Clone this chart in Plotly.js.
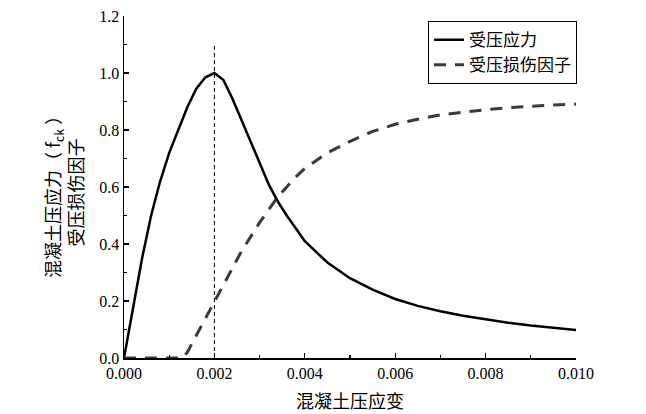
<!DOCTYPE html>
<html>
<head>
<meta charset="utf-8">
<script src="https://cdn.plot.ly/plotly-3.0.1.min.js"></script>
<style>html,body{margin:0;padding:0;background:#fff;}#chart{width:646px;height:414px;}</style>
</head>
<body>
<div id="chart"></div>
<script>
// Concrete compressive stress (normalised by f_ck)
const strainStress = [0, 0.0002, 0.0004, 0.0006, 0.0008, 0.001, 0.0012, 0.0014, 0.0016, 0.0018, 0.002,
  0.0022, 0.0024, 0.0026, 0.0028, 0.003, 0.0032, 0.0034, 0.0036, 0.0038, 0.004,
  0.0045, 0.005, 0.0055, 0.006, 0.0065, 0.007, 0.0075, 0.008, 0.0085, 0.009, 0.0095, 0.01];
const stressValues = [0, 0.17, 0.35, 0.50, 0.62, 0.72, 0.80, 0.88, 0.945, 0.985, 1.0,
  0.975, 0.91, 0.835, 0.755, 0.68, 0.61, 0.55, 0.50, 0.455, 0.41,
  0.335, 0.28, 0.24, 0.207, 0.183, 0.164, 0.148, 0.135, 0.124, 0.114, 0.106, 0.098];

// Compressive damage factor
const strainDamage = [0, 0.0013, 0.0014, 0.0016, 0.0018, 0.002, 0.0022, 0.0024, 0.0026, 0.0028, 0.003,
  0.0032, 0.0034, 0.0036, 0.0038, 0.004, 0.0045, 0.005, 0.0055, 0.006, 0.0065,
  0.007, 0.0075, 0.008, 0.0085, 0.009, 0.0095, 0.01];
const damageValues = [0, 0, 0.02, 0.08, 0.14, 0.2, 0.26, 0.32, 0.375, 0.425, 0.475,
  0.52, 0.565, 0.60, 0.635, 0.665, 0.72, 0.76, 0.795, 0.82, 0.838,
  0.853, 0.863, 0.871, 0.878, 0.884, 0.888, 0.891];

// Peak-strain reference line
const peakX = [0.002, 0.002];
const peakY = [0, 1.105];

const seriesNames = ["受压应力", "受压损伤因子"];
const xTickVals = [0, 0.002, 0.004, 0.006, 0.008, 0.010];
const xTickText = ["0.000", "0.002", "0.004", "0.006", "0.008", "0.010"];
const yTickVals = [0, 0.2, 0.4, 0.6, 0.8, 1.0, 1.2];
const yTickText = ["0.0", "0.2", "0.4", "0.6", "0.8", "1.0", "1.2"];
const xTitle = "混凝土压应变";
const yTitle = "混凝土压应力（ f<sub>ck</sub> ）<br>受压损伤因子";

const cjk = '"Noto Sans CJK SC", "Noto Sans", sans-serif';
const num = '"Liberation Serif", "DejaVu Serif", serif';

const traces = [
  {x: peakX, y: peakY, mode: 'lines', showlegend: false, hoverinfo: 'skip',
   line: {color: '#000', width: 1, dash: '4px,3px'}},
  {x: strainStress, y: stressValues, mode: 'lines', name: seriesNames[0],
   line: {color: '#000', width: 2.5}},
  {x: strainDamage, y: damageValues, mode: 'lines', name: seriesNames[1],
   line: {color: '#3a3a3a', width: 3, dash: '12px,9px'}}
];

const layout = {
  width: 646, height: 414,
  margin: {l: 124, r: 70, t: 16, b: 56},
  paper_bgcolor: '#fff', plot_bgcolor: '#fff',
  showlegend: true,
  legend: {x: 0.6726, y: 0.985, xanchor: 'left', yanchor: 'top',
    bordercolor: '#000', borderwidth: 1, bgcolor: '#fff',
    font: {family: cjk, size: 17, color: '#000'}, tracegroupgap: 0},
  xaxis: {range: [0, 0.01], showgrid: false, zeroline: false,
    showline: true, linecolor: '#000', linewidth: 1.5, mirror: false,
    ticks: 'inside', ticklen: 5, tickwidth: 1.2, tickcolor: '#000',
    tickvals: xTickVals, ticktext: xTickText,
    minor: {dtick: 0.001, ticks: 'inside', ticklen: 3, tickwidth: 1.2, tickcolor: '#000', showgrid: false},
    tickfont: {family: num, size: 16, color: '#000'},
    title: {text: xTitle, font: {family: cjk, size: 18, color: '#000'}, standoff: 14}},
  yaxis: {range: [0, 1.2], showgrid: false, zeroline: false,
    showline: true, linecolor: '#000', linewidth: 1.5, mirror: false,
    ticks: 'inside', ticklen: 5, tickwidth: 1.2, tickcolor: '#000',
    tickvals: yTickVals, ticktext: yTickText,
    minor: {dtick: 0.1, ticks: 'inside', ticklen: 3, tickwidth: 1.2, tickcolor: '#000', showgrid: false},
    tickfont: {family: num, size: 16, color: '#000'}},
  annotations: [{
    text: yTitle, xref: 'paper', yref: 'paper', x: -0.135, y: 0.485,
    xanchor: 'center', yanchor: 'middle', textangle: -90, showarrow: false, align: 'center',
    font: {family: cjk, size: 18, color: '#000'}
  }]
};

Plotly.newPlot('chart', traces, layout, {displayModeBar: false, staticPlot: true});
</script>
</body>
</html>
